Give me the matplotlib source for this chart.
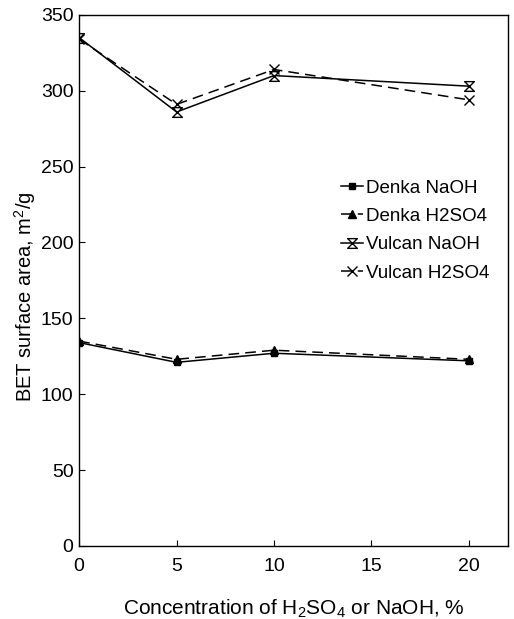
import matplotlib
matplotlib.use("Agg")
import matplotlib.pyplot as plt
from matplotlib.path import Path

plt.rcParams['font.family'] = ['Liberation Sans', 'DejaVu Sans']
plt.rcParams['mathtext.default'] = 'regular'

conc = [0, 5, 10, 20]
denka_naoh = [134, 121, 127, 122]
denka_h2so4 = [135, 123, 129, 123]
vulcan_naoh = [335, 286, 310, 303]
vulcan_h2so4 = [334, 291, 314, 294]

# hourglass marker
hourglass = Path([(-1, 1), (1, 1), (-1, -1), (1, -1), (-1, 1)],
                 [Path.MOVETO, Path.LINETO, Path.LINETO, Path.LINETO, Path.CLOSEPOLY])

fig = plt.figure(figsize=(5.14, 6.19), dpi=100)
ax = fig.add_axes([0.154, 0.118, 0.834, 0.858])

dash = (0, (7, 4))
ax.plot(conc, denka_naoh, color='black', lw=1.1, marker='s', ms=5, label='Denka NaOH')
ax.plot(conc, denka_h2so4, color='black', lw=1.1, ls=dash, marker='^', ms=6, label='Denka H2SO4')
ax.plot(conc, vulcan_naoh, color='black', lw=1.1, marker=hourglass, ms=7,
        mfc='white', mec='black', mew=1.0, label='Vulcan NaOH')
ax.plot(conc, vulcan_h2so4, color='black', lw=1.1, ls=dash, marker='x', ms=7, mew=1.0,
        label='Vulcan H2SO4')

ax.set_xlim(0, 22)
ax.set_ylim(0, 350)
ax.set_xticks([0, 5, 10, 15, 20])
ax.set_yticks(range(0, 351, 50))
ax.tick_params(direction='in', length=4, width=0.8)
ax.tick_params(axis='x', labelsize=14, pad=9)
ax.tick_params(axis='y', labelsize=14, pad=4)
for s in ax.spines.values():
    s.set_linewidth(1.0)

ax.set_xlabel('Concentration of H$_2$SO$_4$ or NaOH, %', fontsize=15, labelpad=16)
ax.set_ylabel('BET surface area, m$^2$/g', fontsize=14.5)
ax.yaxis.set_label_coords(-0.095, 0.47)

ax.legend(loc='upper left', bbox_to_anchor=(0.61, 0.69), frameon=False, fontsize=13.5,
          borderpad=0, borderaxespad=0, handlelength=1.2, handletextpad=0.15,
          labelspacing=0.6)

fig.savefig('out.png', dpi=100)
